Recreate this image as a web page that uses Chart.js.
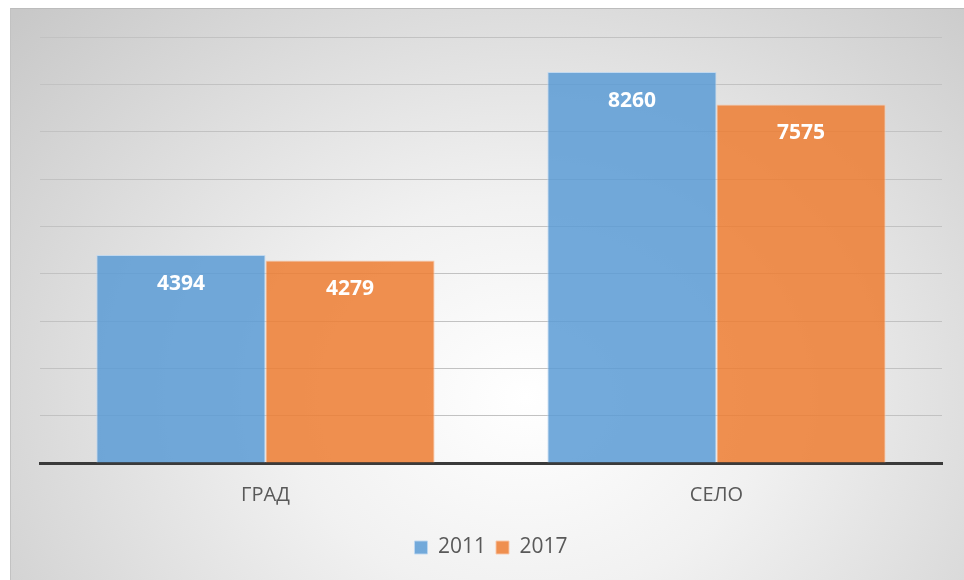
<!DOCTYPE html>
<html>
<head>
<meta charset="utf-8">
<script src="https://cdn.jsdelivr.net/npm/chart.js@4.4.1/dist/chart.umd.min.js"></script>
<style>
  html, body { margin: 0; padding: 0; background: #fff; }
  #bg {
    position: absolute; left: 10px; top: 8px; width: 954px; height: 572px;
    background: radial-gradient(ellipse 72% 100% at 54% 68%, #ffffff 0%, #f1f1f1 35%, #c8c8c8 100%);
    border-top: 1px solid #bcbcbc; border-left: 1px solid #c2c2c2;
    box-sizing: border-box;
  }
  #wrap { position: absolute; left: 0; top: 0; width: 964px; height: 580px; }
</style>
</head>
<body>
<div id="bg"></div>
<div id="wrap"><canvas id="chart"></canvas></div>
<script>
const categories = ['ГРАД', 'СЕЛО'];
const values2011 = [4394, 8260];
const values2017 = [4279, 7575];
const yMax = 9000;
const yStep = 1000;

// white value labels inside the top of each bar
const barLabels = {
  id: 'barLabels',
  afterDatasetsDraw(chart) {
    const ctx = chart.ctx;
    ctx.save();
    ctx.fillStyle = '#ffffff';
    ctx.font = 'bold 21px "Open Sans"';
    ctx.textAlign = 'center';
    ctx.textBaseline = 'middle';
    chart.data.datasets.forEach((ds, i) => {
      chart.getDatasetMeta(i).data.forEach((bar, j) => {
        ctx.fillText(ds.data[j], bar.x, bar.y + 29);
      });
    });
    ctx.restore();
  }
};

new Chart(document.getElementById('chart'), {
  type: 'bar',
  data: {
    labels: categories,
    datasets: [
      {
        label: '2011',
        data: values2011,
        backgroundColor: 'rgba(91,155,213,0.85)',
        borderColor: 'rgba(190,215,240,0.9)',
        borderWidth: 1
      },
      {
        label: '2017',
        data: values2017,
        backgroundColor: 'rgba(237,125,49,0.85)',
        borderColor: 'rgba(248,200,170,0.9)',
        borderWidth: 1
      }
    ]
  },
  options: {
    responsive: true,
    maintainAspectRatio: false,
    animation: false,
    layout: { padding: { left: 40, right: 22, top: 37, bottom: 12 } },
    datasets: { bar: { categoryPercentage: 0.75, barPercentage: 1.0 } },
    plugins: {
      legend: {
        position: 'bottom',
        labels: {
          boxWidth: 13,
          boxHeight: 13,
          padding: 10,
          color: '#595959',
          font: { family: 'Open Sans', size: 21 }
        }
      },
      tooltip: { enabled: false }
    },
    scales: {
      x: {
        grid: { display: false, drawTicks: false },
        border: { display: true, color: '#3a3a3a', width: 3 },
        ticks: { color: '#595959', padding: 20, font: { family: 'Open Sans', size: 20 } }
      },
      y: {
        min: 0,
        max: yMax,
        ticks: { display: false, stepSize: yStep },
        grid: { color: '#c2c2c2', lineWidth: 1, drawTicks: false },
        border: { display: false }
      }
    }
  },
  plugins: [barLabels]
});
</script>
</body>
</html>
